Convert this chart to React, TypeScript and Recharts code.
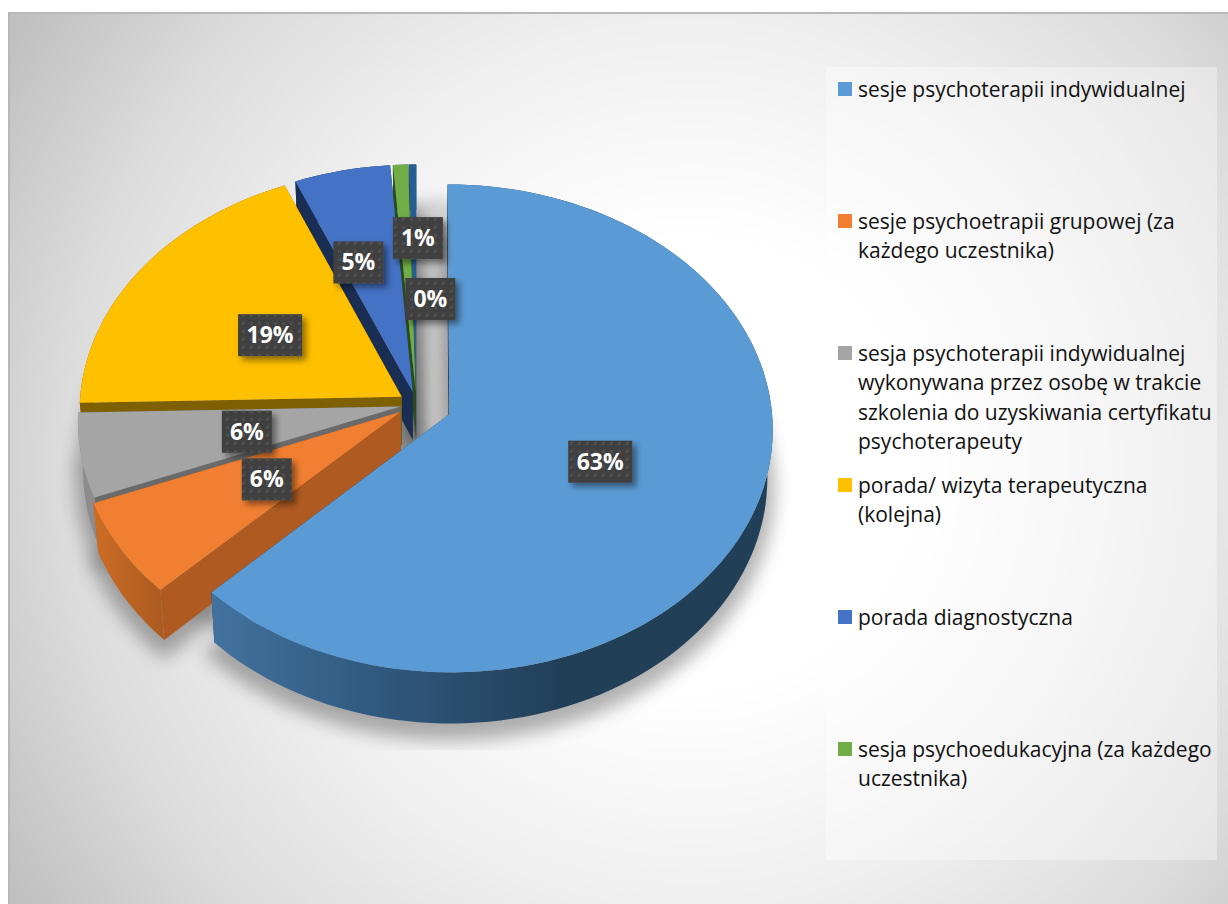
import { PieChart, Pie, Legend } from "recharts";

// legend order, clockwise from 12 o'clock
const categories = [
    "sesje psychoterapii indywidualnej",
    "sesje psychoetrapii grupowej (za każdego uczestnika)",
    "sesja psychoterapii indywidualnej wykonywana przez osobę w trakcie szkolenia do uzyskiwania certyfikatu psychoterapeuty",
    "porada/ wizyta terapeutyczna (kolejna)",
    "porada diagnostyczna",
    "sesja psychoedukacyjna (za każdego uczestnika)",
    "pozostałe",
];
const values = [62.6, 6.4, 5.6, 19.1, 5.1, 0.8, 0.4];

const legendLines = [
    ["sesje psychoterapii indywidualnej"],
    ["sesje psychoetrapii grupowej (za", "każdego uczestnika)"],
    ["sesja psychoterapii indywidualnej", "wykonywana przez osobę w trakcie", "szkolenia do uzyskiwania certyfikatu", "psychoterapeuty"],
    ["porada/ wizyta terapeutyczna", "(kolejna)"],
    ["porada diagnostyczna"],
    ["sesja psychoedukacyjna (za każdego", "uczestnika)"],
];

const topColors = ["#5B9BD5", "#F07F31", "#A5A5A5", "#FFC000", "#4472C4", "#70AD47", "#255E91"];
const sideColors = ["#1F3E59", "#AE5A21", "#6A6A6A", "#7F6000", "#1A2E54", "#2C4A1C", "#163A5A"];
const rimFills = ["url(#blueRim)", "url(#orangeRim)", "#8C8C8C", "#7F6000", "#1A2E54", "#2C4A1C", "#163A5A"];
const explodes = [0.11, 0.06, 0.05, 0.055, 0.05, 0.05, 0.05];
const labelShifts = [[0, 0], [4, 0], [5, 1], [1, 3], [-18, -16], [10, -37], [16, 24]];

// drawn back to front, so the pie runs counter-clockwise from the top
const rows = categories
    .map((name, i) => ({
        name,
        value: values[i],
        top: topColors[i],
        side: sideColors[i],
        rim: rimFills[i],
        explode: explodes[i],
        shift: labelShifts[i],
    }))
    .reverse();

// fake 3D: tilt and perspective of the Excel pie
const TILT = 0.7516;
const PERSP = 0.0576;
const DEPTH = 48;
const SHRINK = 0.985;
const RAD = Math.PI / 180;

const project = (cx: number, cy: number, r: number, u: number, v: number, low = false) => {
    const s = 1 / (1 - PERSP * v);
    const x = r * u * s;
    const y = r * TILT * v * s;
    if (low) return [cx + x * SHRINK, cy + y + DEPTH * s];
    return [cx + x, cy + y];
};

const slicePoints = (p: any, low = false, explode = p.payload.explode) => {
    const { cx, cy, outerRadius: r, startAngle, endAngle } = p;
    const mid = ((startAngle + endAngle) / 2) * RAD;
    const ox = explode * Math.cos(mid);
    const oy = -explode * Math.sin(mid);
    const arc: number[][] = [];
    const steps = Math.max(2, Math.ceil(Math.abs(endAngle - startAngle) / 2));
    for (let i = 0; i <= steps; i++) {
        const a = (startAngle + ((endAngle - startAngle) * i) / steps) * RAD;
        arc.push(project(cx, cy, r, ox + Math.cos(a), oy - Math.sin(a), low));
    }
    return { apex: project(cx, cy, r, ox, oy, low), arc };
};

const toPath = (pts: number[][]) =>
    "M" + pts.map((q) => q[0].toFixed(1) + " " + q[1].toFixed(1)).join("L") + "Z";

const SliceShape = (props: any) => {
    const row = props.payload;
    const up = slicePoints(props);
    const down = slicePoints(props, true);
    const first = up.arc[0];
    const last = up.arc[up.arc.length - 1];
    const firstLow = down.arc[0];
    const lastLow = down.arc[down.arc.length - 1];
    return (
        <g>
            <path d={toPath([up.apex, first, firstLow, down.apex])} fill={row.side} />
            <path d={toPath([up.apex, last, lastLow, down.apex])} fill={row.side} />
            <path d={toPath([...up.arc, ...[...down.arc].reverse()])} fill={row.rim} />
            <path d={toPath([up.apex, ...up.arc])} fill={row.top} />
        </g>
    );
};

// soft drop shadow, cut off at the plot area like the original
const ShadowShape = (props: any) => {
    const down = slicePoints(props, true);
    const whole = slicePoints(props, false, 0);
    return (
        <g clipPath="url(#plotClip)">
            <g opacity={0.3}>
                <g style={{ filter: "blur(9px)" }} fill="#000" stroke="#000" strokeWidth={14} transform="translate(0 10)">
                    <path d={toPath([down.apex, ...down.arc])} />
                </g>
            </g>
            <g opacity={0.14}>
                <g style={{ filter: "blur(7px)" }} fill="#000" transform="translate(0 24)">
                    <path d={toPath([whole.apex, ...whole.arc])} />
                </g>
            </g>
        </g>
    );
};

const renderLabel = (p: any) => {
    const row = p.payload;
    const mid = p.midAngle * RAD;
    const f = 0.5;
    const e = row.explode;
    const [x0, y0] = project(p.cx, p.cy, p.outerRadius, (e + f) * Math.cos(mid), -(e + f) * Math.sin(mid));
    const x = x0 + row.shift[0];
    const y = y0 + row.shift[1];
    const text = Math.round(row.value) + "%";
    const w = text.length > 2 ? 64 : 50;
    return (
        <g>
            <rect x={x - w / 2} y={y - 21} width={w} height={42} fill="#404040" filter="url(#boxShadow)" />
            <rect x={x - w / 2} y={y - 21} width={w} height={42} fill="url(#dots)" />
            <text x={x} y={y + 8} textAnchor="middle" fill="#fff" fontFamily="'Open Sans', sans-serif" fontWeight={700} fontSize={23}>
                {text}
            </text>
        </g>
    );
};

const renderLegend = () => (
    <div style={{ position: "relative", width: 391, height: 793, fontFamily: "'Open Sans', sans-serif", fontSize: 21, lineHeight: "29.4px", color: "#111" }}>
        {legendLines.map((lines, i) => (
            <div key={i} style={{ position: "absolute", left: 32, top: 8 + i * 132 }}>
                <span style={{ position: "absolute", left: -20, top: 7, width: 14, height: 14, background: topColors[i] }} />
                {lines.map((l) => (
                    <div key={l} style={{ whiteSpace: "nowrap" }}>{l}</div>
                ))}
            </div>
        ))}
    </div>
);

export default function App() {
    return (
        <div style={{ position: "absolute", left: 0, top: 0, width: 1228, height: 904, background: "#fff", overflow: "hidden" }}>
            <div
                style={{
                    position: "absolute",
                    left: 8,
                    top: 12,
                    width: 1220,
                    height: 892,
                    boxSizing: "border-box",
                    borderLeft: "2px solid #b8b8b8",
                    borderTop: "2px solid #b8b8b8",
                    background: "radial-gradient(circle 800px at 680px 450px, #fff 0%, #fff 28%, #efefef 55%, #dcdcdc 78%, #c0c0c0 100%)",
                }}
            />
            <div style={{ position: "absolute", left: 826, top: 67, width: 391, height: 793, background: "rgba(255,255,255,0.35)" }} />
            <div style={{ position: "absolute", left: 0, top: 0 }}>
                <PieChart width={1228} height={904} margin={{ top: 0, right: 0, bottom: 0, left: 0 }}>
                    <defs>
                        <clipPath id="plotClip" clipPathUnits="userSpaceOnUse">
                            <rect x={50} y={160} width={740} height={590} />
                        </clipPath>
                        <filter id="boxShadow" x="-30%" y="-30%" width="170%" height="170%">
                            <feDropShadow dx="4" dy="4" stdDeviation="3" floodColor="#000" floodOpacity="0.45" />
                        </filter>
                        <pattern id="dots" width="8" height="8" patternUnits="userSpaceOnUse">
                            <rect x={2} y={2} width={3} height={3} fill="#4e4e4e" />
                        </pattern>
                        <linearGradient id="blueRim" gradientUnits="userSpaceOnUse" x1="215" y1="0" x2="560" y2="0">
                            <stop offset="0%" stopColor="#41729E" />
                            <stop offset="45%" stopColor="#315A80" />
                            <stop offset="100%" stopColor="#223F58" />
                        </linearGradient>
                        <linearGradient id="orangeRim" gradientUnits="userSpaceOnUse" x1="100" y1="0" x2="170" y2="0">
                            <stop offset="0%" stopColor="#C96C25" />
                            <stop offset="100%" stopColor="#A85820" />
                        </linearGradient>
                    </defs>
                    <Pie
                        data={rows}
                        dataKey="value"
                        nameKey="name"
                        cx={416.5}
                        cy={404}
                        outerRadius={322}
                        startAngle={90}
                        endAngle={450}
                        shape={ShadowShape}
                        stroke="none"
                        isAnimationActive={false}
                    />
                    <Pie
                        data={rows}
                        dataKey="value"
                        nameKey="name"
                        cx={416.5}
                        cy={404}
                        outerRadius={322}
                        startAngle={90}
                        endAngle={450}
                        shape={SliceShape}
                        stroke="none"
                        label={renderLabel}
                        labelLine={false}
                        isAnimationActive={false}
                    />
                    <Legend content={renderLegend} wrapperStyle={{ position: "absolute", left: 826, top: 67, width: 391, height: 793 }} />
                </PieChart>
            </div>
        </div>
    );
}
